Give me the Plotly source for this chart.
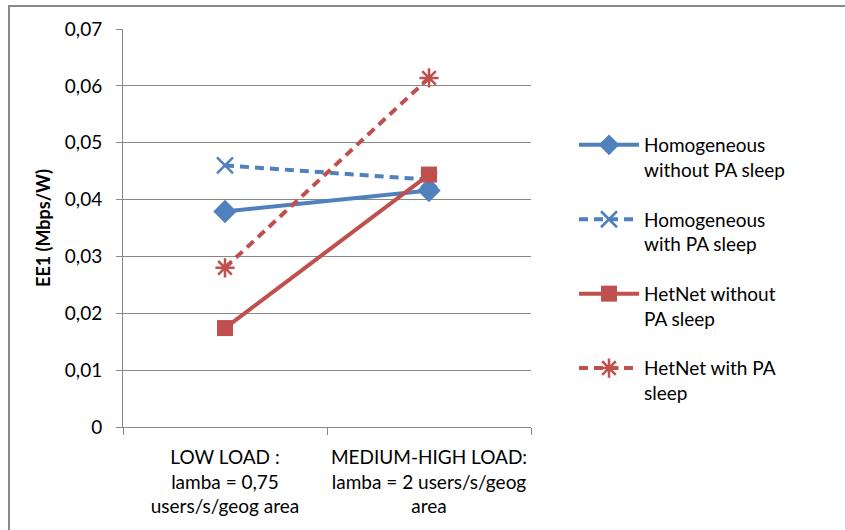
import plotly.graph_objects as go

categories = ["LOW LOAD :<br>lamba = 0,75<br>users/s/geog area",
              "MEDIUM-HIGH LOAD:<br>lamba = 2 users/s/geog<br>area"]
homog_without = [0.0379, 0.0416]
homog_with = [0.0460, 0.0435]
hetnet_without = [0.0174, 0.0444]
hetnet_with = [0.0280, 0.0614]
series_names = ["Homogeneous<br>without PA sleep", "Homogeneous<br>with PA sleep",
                "HetNet without<br>PA sleep", "HetNet with PA<br>sleep"]
y_tick_vals = [0, 0.01, 0.02, 0.03, 0.04, 0.05, 0.06, 0.07]
y_tick_text = ["0", "0,01", "0,02", "0,03", "0,04", "0,05", "0,06", "0,07"]

BLUE = "#4F81BD"
RED = "#C0504D"
FONT = "Lato"
DASH = "9px,6px"

fig = go.Figure()
fig.add_trace(go.Scatter(x=categories, y=homog_without, name=series_names[0], mode="lines+markers",
                         line=dict(color=BLUE, width=4),
                         marker=dict(symbol="diamond", size=18, color=BLUE),
                         legendgroup="a"))
fig.add_trace(go.Scatter(x=categories, y=homog_with, name=series_names[1], mode="lines+markers",
                         line=dict(color=BLUE, width=4, dash=DASH),
                         marker=dict(symbol="x-thin", size=16, color=BLUE, line=dict(color=BLUE, width=2.5)),
                         legendgroup="b"))
fig.add_trace(go.Scatter(x=categories, y=hetnet_without, name=series_names[2], mode="lines+markers",
                         line=dict(color=RED, width=4),
                         marker=dict(symbol="square", size=16, color=RED),
                         legendgroup="c"))
fig.add_trace(go.Scatter(x=categories, y=hetnet_with, name=series_names[3], mode="lines+markers",
                         line=dict(color=RED, width=4, dash=DASH),
                         marker=dict(symbol="asterisk", size=16, color=RED, line=dict(color=RED, width=2.5)),
                         legendgroup="d"))

L, R, T, B = 123, 531, 29, 427
W, H = 845, 530
pw, ph = R - L, B - T

def px_x(x):
    return (x - L) / pw

def px_y(y):
    return (B - y) / ph

fig.update_layout(
    width=W, height=H,
    margin=dict(l=L, r=W - R, t=T, b=H - B, autoexpand=False),
    paper_bgcolor="white", plot_bgcolor="white",
    font=dict(family=FONT, size=19, color="#000000"),
    showlegend=True,
    legend=dict(x=px_x(574), y=px_y(126), xanchor="left", yanchor="top",
                font=dict(family=FONT, size=19, color="#000000"),
                tracegroupgap=22, valign="top", itemwidth=60,
                bgcolor="rgba(0,0,0,0)"),
    xaxis=dict(type="category", showgrid=False, showline=True, linecolor="#888888", linewidth=1,
               ticks="outside", ticklen=7, tickcolor="#888888", tickson="boundaries",
               ticklabelstandoff=13, tickangle=0, automargin=False,
               tickfont=dict(family=FONT, size=19), range=[-0.5, 1.5], fixedrange=True),
    yaxis=dict(range=[0, 0.07], tickvals=y_tick_vals, ticktext=y_tick_text,
               showgrid=True, gridcolor="#888888", gridwidth=1,
               showline=True, linecolor="#888888", linewidth=1,
               ticks="outside", ticklen=6, tickcolor="#888888",
               ticklabelstandoff=10, automargin=False,
               tickfont=dict(family=FONT, size=19), zeroline=False,
               title=dict(text="<b>EE1 (Mbps/W)</b>", font=dict(family=FONT, size=18), standoff=9)),
    shapes=[dict(type="rect", xref="paper", yref="paper",
                 x0=px_x(9), x1=px_x(900), y0=px_y(600), y1=px_y(6),
                 line=dict(color="#888888", width=2), fillcolor="rgba(0,0,0,0)", layer="below")],
)

fig.write_html("out.html")
